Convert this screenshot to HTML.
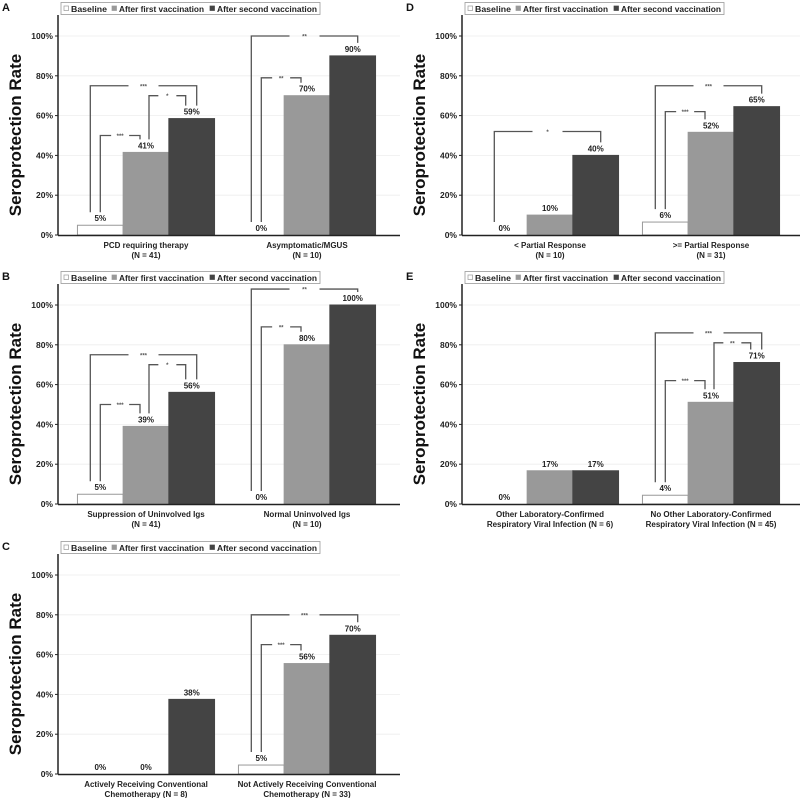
<!DOCTYPE html>
<html><head><meta charset="utf-8"><style>
html,body{margin:0;padding:0;background:#fff}
svg{display:block;font-family:"Liberation Sans",Arial,sans-serif}
</style></head><body>
<svg id="fig" width="800" height="798" viewBox="0 0 800 798"></svg>
<script>
const panelLetters = ["A","D","B","E","C"];
const categoriesA = [["PCD requiring therapy","(N = 41)"],["Asymptomatic/MGUS","(N = 10)"]];
const categoriesD = [["< Partial Response","(N = 10)"],[">= Partial Response","(N = 31)"]];
const categoriesB = [["Suppression of Uninvolved Igs","(N = 41)"],["Normal Uninvolved Igs","(N = 10)"]];
const categoriesE = [["Other Laboratory-Confirmed","Respiratory Viral Infection (N = 6)"],["No Other Laboratory-Confirmed","Respiratory Viral Infection (N = 45)"]];
const categoriesC = [["Actively Receiving Conventional","Chemotherapy (N = 8)"],["Not Actively Receiving Conventional","Chemotherapy (N = 33)"]];
const valuesA = [[4.9,41.5,58.5],[0,70,90]];
const valuesD = [[0,10,40],[6.5,51.6,64.5]];
const valuesB = [[4.9,39,56.1],[0,80,100]];
const valuesE = [[0,16.7,16.7],[4.4,51.1,71.1]];
const valuesC = [[0,0,37.5],[4.5,55.5,69.7]];
const labelsA = [["5%","41%","59%"],["0%","70%","90%"]];
const labelsD = [["0%","10%","40%"],["6%","52%","65%"]];
const labelsB = [["5%","39%","56%"],["0%","80%","100%"]];
const labelsE = [["0%","17%","17%"],["4%","51%","71%"]];
const labelsC = [["0%","0%","38%"],["5%","56%","70%"]];
// brackets: [group, fromSeries, toSeries, levelPercent, stars]
const bracketsA = [[0,0,2,75,"***"],[0,0,1,50,"***"],[0,1,2,70,"*"],[1,0,2,100,"**"],[1,0,1,79,"**"]];
const bracketsD = [[0,0,2,52,"*"],[1,0,2,75,"***"],[1,0,1,62,"***"]];
const bracketsB = [[0,0,2,75,"***"],[0,0,1,50,"***"],[0,1,2,70,"*"],[1,0,2,108,"**"],[1,0,1,89,"**"]];
const bracketsE = [[1,0,2,86,"***"],[1,1,2,81,"**"],[1,0,1,62,"***"]];
const bracketsC = [[1,0,2,80,"***"],[1,0,1,65,"***"]];
const yTicks = [0,20,40,60,80,100];
const seriesNames = ["Baseline","After first vaccination","After second vaccination"];

const panels = [
 {ox:0,oy:0,cat:categoriesA,val:valuesA,lab:labelsA,br:bracketsA},
 {ox:404,oy:0,cat:categoriesD,val:valuesD,lab:labelsD,br:bracketsD},
 {ox:0,oy:269,cat:categoriesB,val:valuesB,lab:labelsB,br:bracketsB},
 {ox:404,oy:269,cat:categoriesE,val:valuesE,lab:labelsE,br:bracketsE},
 {ox:0,oy:539,cat:categoriesC,val:valuesC,lab:labelsC,br:bracketsC}
];
const fills = ["#ffffff","#999999","#444444"];
const strokes = ["#999999","#999999","#444444"];
const NS="http://www.w3.org/2000/svg";
const svg=document.getElementById("fig");
function mk(tag,attrs,parent,text){const e=document.createElementNS(NS,tag);for(const k in attrs)e.setAttribute(k,attrs[k]);if(text!==undefined)e.textContent=text;parent.appendChild(e);return e;}

panels.forEach((p,pi)=>{
  const g=mk("g",{transform:`translate(${p.ox},${p.oy})`},svg);
  
  
  const ax=58, y0=235, y100=36;
  const yS=v=>y0-(y0-y100)*v/100;
  const gc=[ax+88, ax+249];
  const bw=45.7;
  const bx=(gi,si)=>gc[gi]-1.5*bw+si*bw;
  const bc=(gi,si)=>bx(gi,si)+bw/2;
  const L=mk("text",{x:2,y:11,"font-size":11,"font-weight":"bold",fill:"#111"},g,panelLetters[pi]);
  
  
  yTicks.forEach(t=>{
    if(t>0){const gl=mk("line",{x1:ax,x2:ax+342,y1:yS(t),y2:yS(t),stroke:"#eeeeee","stroke-width":0.8},g);
      }
    const tk=mk("line",{x1:ax-3,x2:ax,y1:yS(t),y2:yS(t),stroke:"#222","stroke-width":1},g);
    
    const tl=mk("text",{x:ax-5,y:yS(t)+3,"font-size":8.5,"font-weight":"bold","text-anchor":"end",fill:"#222"},g,t+"%");
    
  });
  const yt=mk("text",{transform:`translate(21,135) rotate(-90)`,"font-size":17,"font-weight":"bold","text-anchor":"middle",fill:"#111"},g,"Seroprotection Rate");
  
  p.val.forEach((gv,gi)=>{
    gv.forEach((v,si)=>{
      const r=mk("rect",{x:bx(gi,si),y:yS(v),width:bw,height:Math.max(0,y0-yS(v)),fill:fills[si],stroke:strokes[si],"stroke-width":1},g);
      
      
      const vl=mk("text",{x:bc(gi,si),y:yS(v)-4,"font-size":8,"font-weight":"bold","text-anchor":"middle",fill:"#222"},g,p.lab[gi][si]);
      
    });
    p.cat[gi].forEach((line,li)=>{
      const ct=mk("text",{x:gc[gi],y:248+li*10,"font-size":8,"font-weight":"bold","text-anchor":"middle",fill:"#222"},g,line);
      
    });
  });
  p.br.forEach(b=>{
    const [gi,fs,ts,lvl,st]=b;
    const outer=(fs===0&&ts===2);
    const xl=bc(gi,fs)+(outer?-10:(fs===0?0:3));
    const xr=bc(gi,ts)+(outer?5:-6);
    const yb=yS(lvl);
    const ylb=Math.min(yS(p.val[gi][fs])-13,y0-10);
    const yrb=yS(p.val[gi][ts])-13;
    const mid=(xl+xr)/2, gap=outer?15:9;
    const bg=mk("g",{},g);
    
    mk("path",{d:`M${xl},${ylb} V${yb} H${mid-gap} M${mid+gap},${yb} H${xr} V${yrb}`,fill:"none",stroke:"#555","stroke-width":1.3},bg);
    const s=mk("text",{x:mid,y:yb+2.5,"font-size":6,"font-weight":"bold","text-anchor":"middle",fill:"#555"},bg,st);
    
  });
  const ya=mk("line",{x1:ax,x2:ax,y1:15,y2:y0+0.5,stroke:"#222","stroke-width":1.5},g);
  
  const xa=mk("line",{x1:ax,x2:ax+342,y1:y0+0.5,y2:y0+0.5,stroke:"#222","stroke-width":1.5},g);
  
  const lg=mk("g",{},g);
  
  mk("rect",{x:61,y:2.5,width:259,height:12,fill:"#fff",stroke:"#999","stroke-width":0.8},lg);
  const lx=[64,112,210];
  const lw=[36,85,100];
  seriesNames.forEach((n,si)=>{
    const e=mk("g",{},lg);
    
    mk("rect",{x:lx[si],y:6,width:4.5,height:4.5,fill:fills[si],stroke:strokes[si],"stroke-width":0.7},e);
    mk("text",{x:lx[si]+7,y:12,"font-size":8.5,"font-weight":"bold",fill:"#222",textLength:lw[si],lengthAdjust:"spacingAndGlyphs"},e,n);
  });
});
</script>
</body></html>
